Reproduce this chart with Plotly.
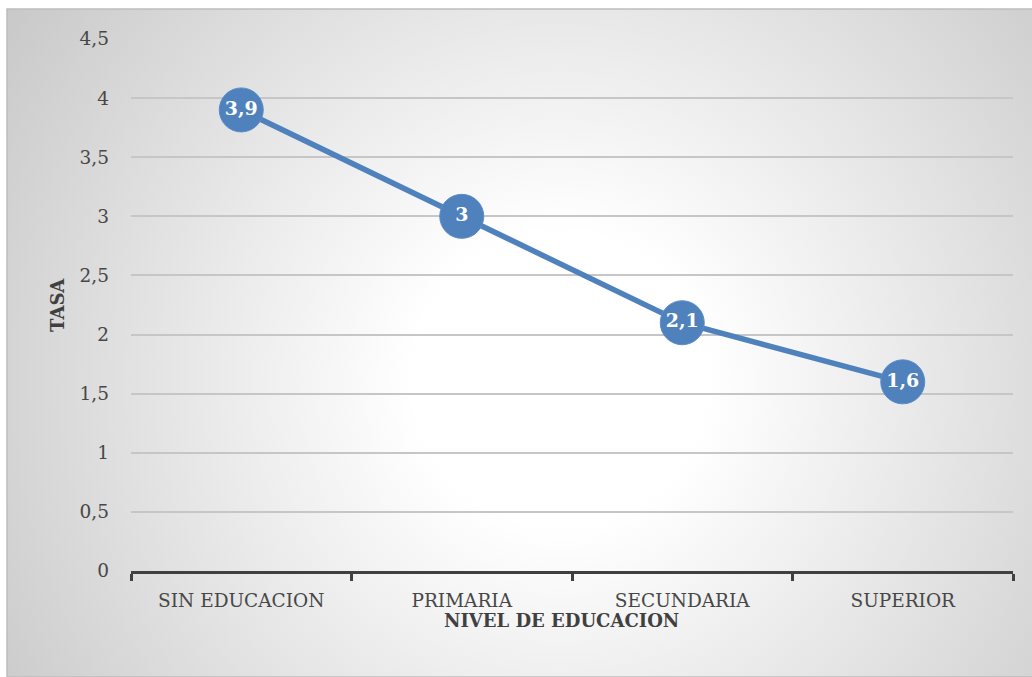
import base64
import plotly.graph_objects as go

# Tasa por nivel de educación
niveles = ["SIN EDUCACION", "PRIMARIA", "SECUNDARIA", "SUPERIOR"]
tasa = [3.9, 3.0, 2.1, 1.6]
etiquetas = ["3,9", "3", "2,1", "1,6"]
y_ticks = [0, 0.5, 1, 1.5, 2, 2.5, 3, 3.5, 4, 4.5]

BLUE = "#4F81BD"
TEXT = "#474747"
AXIS = "#404040"
FONT = "DejaVu Serif"

# radial gradient used as chart-area fill (pixel units of the area)
svg = (
    '<svg xmlns="http://www.w3.org/2000/svg" width="1025" height="668" '
    'preserveAspectRatio="none" viewBox="0 0 1025 668">'
    '<defs><radialGradient id="g" gradientUnits="userSpaceOnUse" '
    'cx="553" cy="371" r="700">'
    '<stop offset="0" stop-color="#ffffff"/>'
    '<stop offset="0.21" stop-color="#ffffff"/>'
    '<stop offset="1" stop-color="#c5c5c5"/>'
    '</radialGradient></defs>'
    '<rect width="1025" height="668" fill="url(#g)"/></svg>'
)
bg_src = "data:image/svg+xml;base64," + base64.b64encode(svg.encode()).decode()

W, H = 1032, 677
L, R, T, B = 131, 19, 39, 106
pw, ph = W - L - R, H - T - B


def px_x(p):
    return (p - L) / pw


def px_y(p):
    return (H - B - p) / ph


fig = go.Figure()
fig.add_trace(go.Scatter(
    x=niveles, y=tasa,
    mode="lines+markers+text",
    line=dict(color=BLUE, width=5.5),
    marker=dict(size=44, color=BLUE, line=dict(color="#5a8ccb", width=1)),
    text=etiquetas,
    textposition="middle center",
    textfont=dict(family=FONT, size=19, color="white", weight="bold"),
    hoverinfo="skip",
    cliponaxis=False,
))

fig.update_layout(
    width=W, height=H,
    margin=dict(l=L, r=R, t=T, b=B),
    paper_bgcolor="white",
    plot_bgcolor="rgba(0,0,0,0)",
    separators=",.",
    showlegend=False,
    font=dict(family=FONT, size=18, color=TEXT),
    images=[dict(
        source=bg_src, xref="paper", yref="paper",
        x=px_x(7), y=px_y(9),
        sizex=px_x(W) - px_x(7), sizey=px_y(9) - px_y(H),
        xanchor="left", yanchor="top", sizing="stretch", layer="below",
    )],
    shapes=[dict(
        type="rect", xref="paper", yref="paper",
        x0=px_x(7), y0=px_y(H), x1=px_x(W + 2), y1=px_y(9),
        line=dict(color="#bdbdbd", width=1.5), layer="below",
    )],
    xaxis=dict(
        type="category", range=[-0.5, 3.5],
        tickson="boundaries", ticks="outside", ticklen=7, tickwidth=3,
        tickcolor=AXIS, showline=True, linecolor=AXIS, linewidth=3,
        showgrid=False, zeroline=False,
        tickfont=dict(family=FONT, size=18.5, color=TEXT),
        ticklabelstandoff=11,
    ),
    yaxis=dict(
        range=[0, 4.5], tickvals=y_ticks, tickformat=".1~f",
        showgrid=True, gridcolor="#c6c6c6", gridwidth=1.6,
        zeroline=False, showline=False, ticks="",
        tickfont=dict(family=FONT, size=18.5, color=TEXT),
        ticklabelstandoff=21,
    ),
    annotations=[
        dict(text="<b>NIVEL DE EDUCACION</b>", xref="paper", yref="paper",
             x=px_x(561), y=px_y(620), showarrow=False,
             font=dict(family=FONT, size=18, color=AXIS),
             xanchor="center", yanchor="middle"),
        dict(text="<b>TASA</b>", xref="paper", yref="paper",
             x=px_x(57), y=px_y(305), showarrow=False, textangle=-90,
             font=dict(family=FONT, size=18, color=AXIS),
             xanchor="center", yanchor="middle"),
    ],
)

fig.write_html("out.html")
